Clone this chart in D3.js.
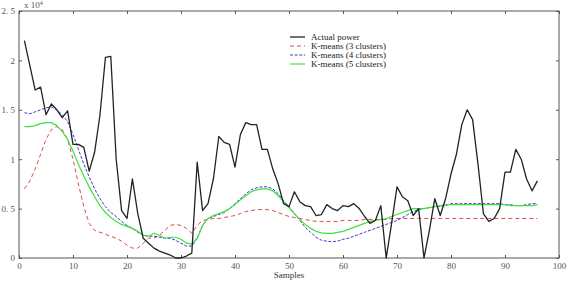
<!DOCTYPE html>
<html><head><meta charset="utf-8">
<script src="https://cdn.jsdelivr.net/npm/d3@7/dist/d3.min.js"></script>
<style>body{margin:0;background:#fff}svg{display:block}text{font-family:"Liberation Serif","DejaVu Serif",serif}</style>
</head><body><svg id="c" width="567" height="281"></svg>
<script>
const xTicks=[0,10,20,30,40,50,60,70,80,90,100];
const yTicks=[0,0.5,1,1.5,2,2.5];
const yTickLabels=["0","0. 5","1","1. 5","2","2. 5"];
const seriesNames=["Actual power","K-means (3 clusters)","K-means (4 clusters)","K-means (5 clusters)"];
const actual=[2.2,1.95,1.7,1.73,1.45,1.56,1.5,1.42,1.49,1.15,1.15,1.12,0.88,1.07,1.45,2.03,2.04,1.0,0.48,0.4,0.8,0.45,0.2,0.15,0.1,0.07,0.05,0.03,0.0,0.0,0.02,0.05,0.97,0.48,0.55,0.8,1.23,1.17,1.15,0.92,1.25,1.37,1.35,1.35,1.1,1.1,0.9,0.75,0.55,0.52,0.67,0.57,0.53,0.52,0.43,0.44,0.54,0.5,0.48,0.53,0.52,0.55,0.5,0.42,0.35,0.38,0.53,0.0,0.35,0.72,0.62,0.58,0.43,0.5,0.0,0.28,0.6,0.43,0.6,0.85,1.05,1.35,1.5,1.4,0.95,0.45,0.37,0.4,0.5,0.87,0.87,1.1,1.0,0.8,0.68,0.78];
const km3=[0.7,0.78,0.9,1.05,1.2,1.3,1.33,1.3,1.2,1.0,0.75,0.52,0.35,0.28,0.26,0.24,0.22,0.2,0.17,0.13,0.1,0.1,0.15,0.2,0.2,0.23,0.28,0.33,0.34,0.33,0.3,0.25,0.33,0.38,0.39,0.4,0.4,0.41,0.42,0.43,0.45,0.47,0.48,0.49,0.49,0.49,0.48,0.46,0.44,0.42,0.41,0.4,0.39,0.38,0.37,0.37,0.37,0.37,0.37,0.38,0.38,0.38,0.38,0.39,0.39,0.39,0.39,0.39,0.4,0.4,0.4,0.4,0.4,0.4,0.4,0.4,0.4,0.4,0.4,0.4,0.4,0.4,0.4,0.4,0.4,0.4,0.4,0.4,0.4,0.4,0.4,0.4,0.4,0.4,0.4,0.4];
const km4=[1.47,1.46,1.48,1.5,1.52,1.53,1.5,1.45,1.38,1.25,1.1,0.95,0.82,0.7,0.6,0.52,0.46,0.42,0.37,0.33,0.3,0.26,0.23,0.22,0.22,0.21,0.2,0.2,0.18,0.15,0.12,0.12,0.2,0.33,0.4,0.42,0.44,0.46,0.5,0.55,0.6,0.65,0.69,0.71,0.72,0.72,0.7,0.65,0.58,0.52,0.45,0.38,0.31,0.26,0.21,0.18,0.17,0.165,0.17,0.19,0.2,0.22,0.24,0.26,0.28,0.3,0.32,0.34,0.36,0.38,0.41,0.44,0.47,0.49,0.5,0.51,0.52,0.52,0.53,0.55,0.55,0.55,0.55,0.55,0.55,0.55,0.55,0.55,0.55,0.54,0.54,0.53,0.53,0.54,0.55,0.55];
const km5=[1.33,1.33,1.34,1.36,1.37,1.37,1.34,1.28,1.2,1.08,0.95,0.83,0.72,0.62,0.53,0.46,0.41,0.37,0.34,0.32,0.3,0.27,0.23,0.22,0.25,0.23,0.2,0.21,0.21,0.19,0.15,0.14,0.2,0.33,0.4,0.43,0.45,0.47,0.5,0.54,0.59,0.63,0.67,0.69,0.7,0.7,0.68,0.63,0.57,0.51,0.45,0.39,0.34,0.3,0.27,0.255,0.25,0.25,0.26,0.27,0.29,0.31,0.33,0.35,0.37,0.38,0.39,0.4,0.42,0.44,0.46,0.48,0.5,0.5,0.5,0.51,0.52,0.53,0.54,0.54,0.54,0.54,0.54,0.54,0.54,0.54,0.54,0.54,0.54,0.54,0.53,0.53,0.53,0.53,0.53,0.54];
const svg=d3.select("#c");
const L=19,R=559,T=11,B=258;
const x=d3.scaleLinear().domain([0,100]).range([L,R]);
const y=d3.scaleLinear().domain([0,2.5]).range([B,T]);
const frame="#555";
svg.append("rect").attr("x",L).attr("y",T).attr("width",R-L).attr("height",B-T).attr("fill","none").attr("stroke",frame).attr("stroke-width",1);
const xa=svg.append("g").attr("transform",`translate(0,${B})`).call(d3.axisBottom(x).tickValues(xTicks).tickSize(-3).tickPadding(5));
const ya=svg.append("g").attr("transform",`translate(${L},0)`).call(d3.axisLeft(y).tickValues(yTicks).tickSize(-3).tickPadding(4).tickFormat((d,i)=>yTickLabels[i]));
[xa,ya].forEach(a=>{a.select(".domain").remove();a.selectAll("line").attr("stroke",frame);a.selectAll("text").attr("fill","#555").attr("font-size",9).attr("font-family","'Liberation Serif',serif");});
svg.append("g").attr("transform",`translate(0,${T})`).call(d3.axisTop(x).tickValues(xTicks).tickSize(-3).tickFormat("")).call(g=>{g.select(".domain").remove();g.selectAll("line").attr("stroke",frame);});
svg.append("g").attr("transform",`translate(${R},0)`).call(d3.axisRight(y).tickValues(yTicks).tickSize(-3).tickFormat("")).call(g=>{g.select(".domain").remove();g.selectAll("line").attr("stroke",frame);});
const ex=svg.append("text").attr("x",24).attr("y",8).attr("font-size",9).attr("fill","#555");
ex.append("tspan").text("x  10");
ex.append("tspan").attr("dy",-3).attr("font-size",6).text("4");
svg.append("text").attr("x",x(50)).attr("y",278).attr("text-anchor","middle").attr("font-size",9).attr("fill","#333").text("Samples");
const styles=[{c:"#222",d:null,w:1.3},{c:"#e04848",d:"4,3",w:1},{c:"#3a3ad0",d:"3,1.6",w:1},{c:"#3ee23e",d:null,w:1.2}];
const all=[actual,km3,km4,km5];
const line=d3.line().x((d,i)=>x(i+1)).y(d=>y(d));
[1,2,3,0].forEach(k=>{
  const p=svg.append("path").datum(all[k]).attr("d",line).attr("fill","none").attr("stroke",styles[k].c).attr("stroke-width",styles[k].w).attr("stroke-linejoin","round");
  if(styles[k].d)p.attr("stroke-dasharray",styles[k].d);
});
const lg=svg.append("g");
seriesNames.forEach((n,i)=>{
  const yy=37+i*9;
  const l=lg.append("line").attr("x1",290).attr("x2",305).attr("y1",yy).attr("y2",yy).attr("stroke",styles[i].c).attr("stroke-width",styles[i].w);
  if(styles[i].d)l.attr("stroke-dasharray",styles[i].d);
  lg.append("text").attr("x",311).attr("y",yy+3).attr("font-size",9).attr("fill","#222").text(n);
});
</script></body></html>
